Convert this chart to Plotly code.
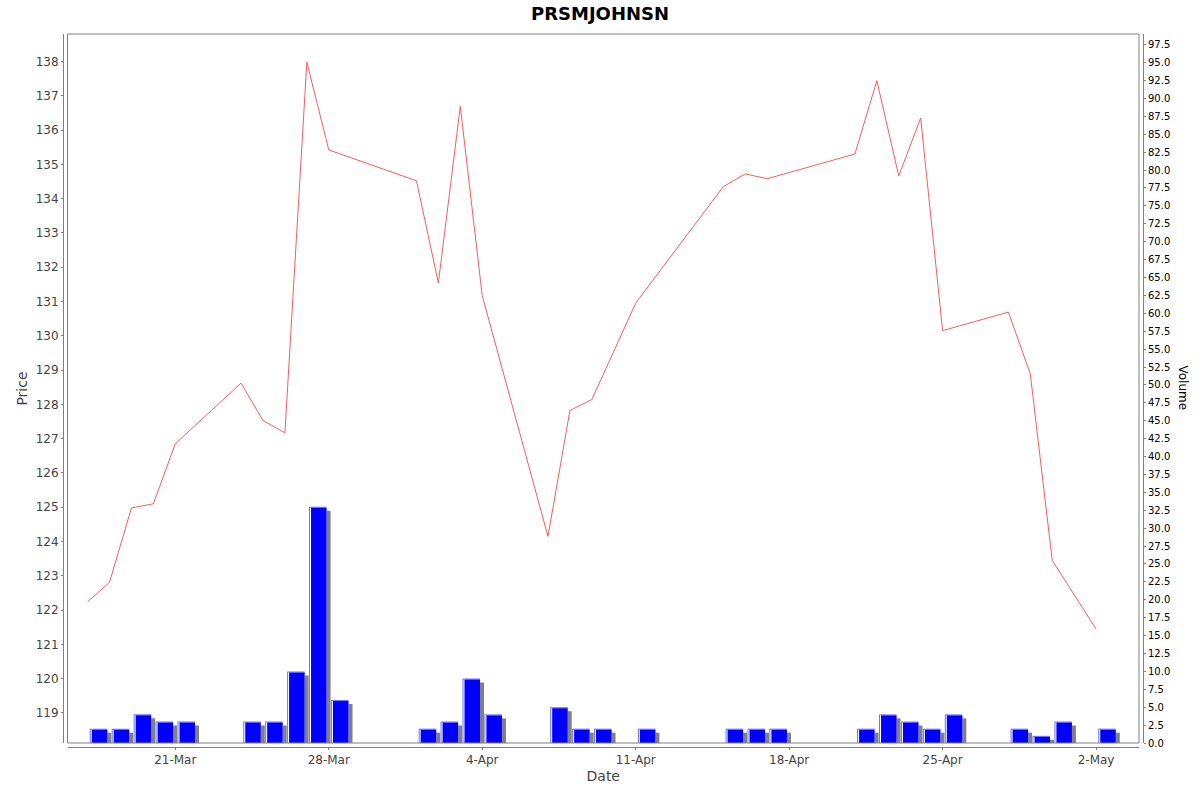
import plotly.graph_objects as go

# trading days shown on the chart
dates = ["2025-03-17", "2025-03-18", "2025-03-19", "2025-03-20", "2025-03-21",
         "2025-03-24", "2025-03-25", "2025-03-26", "2025-03-27", "2025-03-28",
         "2025-04-01", "2025-04-02", "2025-04-03", "2025-04-04",
         "2025-04-07", "2025-04-08", "2025-04-09", "2025-04-11",
         "2025-04-15", "2025-04-16", "2025-04-17",
         "2025-04-21", "2025-04-22", "2025-04-23", "2025-04-24", "2025-04-25",
         "2025-04-28", "2025-04-29", "2025-04-30", "2025-05-02"]

prices = [122.24, 122.81, 124.98, 125.10, 126.85,
          128.62, 127.53, 127.17, 137.98, 135.42,
          134.52, 131.54, 136.69, 131.17,
          124.15, 127.82, 128.14, 130.95,
          134.35, 134.72, 134.58,
          135.30, 137.44, 134.66, 136.35, 130.15,
          130.69, 128.89, 123.45, 121.45]

volumes = [2, 2, 4, 3, 3,
           3, 3, 10, 33, 6,
           2, 3, 9, 4,
           5, 2, 2, 2,
           2, 2, 2,
           2, 4, 3, 2, 4,
           2, 1, 3, 2]

title = "PRSMJOHNSN"
FONT = "DejaVu Sans"

W, H = 1200, 792

DAY = 86400000
PX = DAY / 21.93          # one pixel along x, in ms
VPX = 99 / 709            # one pixel on the volume axis

fig = go.Figure()

# bar shadow (4px right, 4px down)
fig.add_trace(go.Bar(
    x=dates, y=[v - 4 * VPX for v in volumes],
    offset=0.1 * DAY + 4 * PX, width=0.8 * DAY,
    marker=dict(color="#808080", line=dict(width=0)),
    yaxis="y2", hoverinfo="skip"
))
# light edge
fig.add_trace(go.Bar(
    x=dates, y=volumes,
    offset=0.1 * DAY, width=0.8 * DAY,
    marker=dict(color="#7070ff", line=dict(width=0)),
    yaxis="y2", hoverinfo="skip"
))
# white highlight stripe
fig.add_trace(go.Bar(
    x=dates, y=[v - VPX for v in volumes],
    offset=0.1 * DAY + PX, width=0.8 * DAY - PX,
    marker=dict(color="white", line=dict(width=0)),
    yaxis="y2", hoverinfo="skip"
))
# main volume bars
fig.add_trace(go.Bar(
    x=dates, y=[v - VPX for v in volumes],
    offset=0.1 * DAY + 2 * PX, width=0.8 * DAY - 2 * PX,
    marker=dict(color="#0000ff", line=dict(width=0)),
    yaxis="y2", name="Volume"
))

fig.add_trace(go.Scatter(
    x=dates, y=prices, mode="lines",
    line=dict(color="rgb(255,90,90)", width=1),
    yaxis="y", name="Price"
))

axis_common = dict(showgrid=False, zeroline=False, showline=True,
                   linecolor="#808080", linewidth=1, automargin=False,
                   ticks="outside", ticklen=2, tickcolor="#808080")

fig.update_layout(
    width=W, height=H,
    margin=dict(l=63, r=57, t=34, b=45),
    paper_bgcolor="white", plot_bgcolor="white",
    showlegend=False, barmode="overlay",
    font=dict(family=FONT, color="#444444"),
    title=dict(text="<b>" + title + "</b>", x=600 / W, xref="container",
               y=1 - 13.5 / H, yanchor="middle", xanchor="center",
               font=dict(family=FONT, size=18, color="black")),
    xaxis=dict(axis_common, type="date",
               domain=[4.5 / 1080, 1 - 4 / 1080],
               anchor="free", position=0,
               range=["2025-03-16 02:00", "2025-05-03 23:00"],
               tick0="2025-03-21", dtick=7 * DAY, tickformat="%-d-%b",
               tickfont=dict(size=12, color="#444444"),
               title=dict(text="Date", standoff=4,
                          font=dict(size=14, color="#444444"))),
    yaxis=dict(axis_common, domain=[4 / 713, 1],
               anchor="free", position=0,
               range=[118.125, 138.8], dtick=1, tick0=0,
               tickfont=dict(size=12, color="#444444"),
               title=dict(text="Price", standoff=3,
                          font=dict(size=14, color="#444444"))),
    yaxis2=dict(axis_common, overlaying="y", side="right",
                anchor="free", position=1,
                range=[0, 99], dtick=2.5, tick0=0, tickformat=".1f",
                tickfont=dict(size=10, color="black")),
    shapes=[dict(type="rect", xref="x domain", yref="y domain",
                 x0=0, x1=1, y0=0, y1=1,
                 line=dict(color="#808080", width=1), layer="above")],
    annotations=[dict(text="Volume", xref="paper", yref="paper",
                      x=(1182.5 - 63) / 1080, y=0.5035, textangle=90,
                      showarrow=False, xanchor="center", yanchor="middle",
                      font=dict(family=FONT, size=12, color="black"))],
)

# drop the browser's default 8px body margin so the chart sits at (0, 0)
fig.write_html("out.html", config={"displayModeBar": False},
               post_script="document.body.style.margin = '0';")
